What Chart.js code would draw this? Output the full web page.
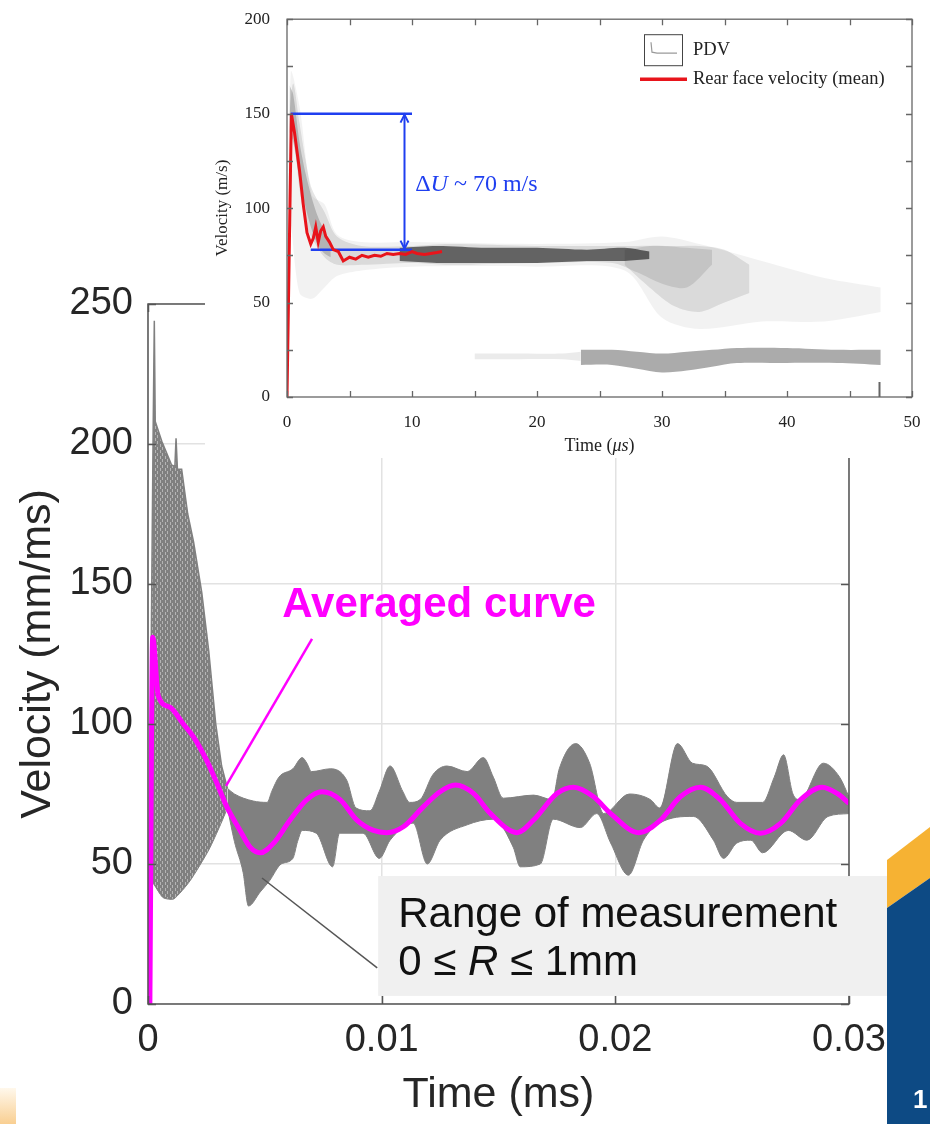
<!DOCTYPE html>
<html>
<head>
<meta charset="utf-8">
<script src="https://cdn.jsdelivr.net/npm/chart.js@4.4.1/dist/chart.umd.min.js"></script>
<style>
  html, body { margin: 0; padding: 0; background: #fff; }
  #page { position: relative; width: 930px; height: 1124px; overflow: hidden; background: #fff; }
  #main { position: absolute; left: 0; top: 0; }
  #insetBox { position: absolute; left: 205px; top: 0; width: 725px; height: 458px; background: #fff; }
  #inset { position: absolute; left: 0; top: 0; }
  .deco { position: absolute; }
  #cornerOrange { left: 887px; top: 820px; width: 43px; height: 100px; background: #f6b233;
    clip-path: polygon(0 40px, 43px 7px, 43px 58px, 0 88px); }
  #cornerBlue { left: 887px; top: 870px; width: 43px; height: 254px; background: #0d4a84;
    clip-path: polygon(0 38px, 43px 8px, 43px 254px, 0 254px); }
  #pageNo { left: 913px; top: 1084px; color: #fff; font: bold 26px "Liberation Sans", Arial, sans-serif; }
  #cornerLeft { left: 0; top: 1088px; width: 16px; height: 36px;
    background: linear-gradient(to bottom, #fff8ec, #f9cf92); }
</style>
</head>
<body>
<div id="page">
  <canvas id="main" width="930" height="1124"></canvas>
  <div id="insetBox"><canvas id="inset" width="725" height="458"></canvas></div>
  <div class="deco" id="cornerOrange"></div>
  <div class="deco" id="cornerBlue"></div>
  <div class="deco" id="pageNo">1</div>
  <div class="deco" id="cornerLeft"></div>
</div>
<script>
// ---------- main plot: rear face velocity, 0 <= R <= 1 mm ----------
const timeTicks = [0, 0.01, 0.02, 0.03];
const velTicks = [0, 50, 100, 150, 200, 250];

// averaged curve
const avgTime = [0.00008, 0.0002, 0.00044, 0.00094, 0.00151, 0.00194, 0.00251, 0.00294, 0.00337,
  0.00394, 0.00437, 0.0048, 0.00537, 0.00608, 0.0068, 0.00744, 0.00822, 0.00894, 0.00965,
  0.01022, 0.01093, 0.01179, 0.0125, 0.01315, 0.01393, 0.01465, 0.0158, 0.0165, 0.0175,
  0.01821, 0.01907, 0.01979, 0.021, 0.02193, 0.02278, 0.02364, 0.0245, 0.02535, 0.02621,
  0.02707, 0.02792, 0.02885, 0.02949, 0.03];
const avgVel = [0, 131, 110, 106, 100, 95.5, 87, 79, 70.5,
  62, 56, 54, 57.4, 65.7, 73, 75.8, 73, 65.7, 62,
  61.2, 63.3, 70.5, 75.8, 78.2, 75.2, 68.1, 61.2, 65.7, 75.2,
  77.4, 74, 68.1, 61.2, 65.7, 74, 77.4, 72.9, 64.5, 61,
  64.5, 72.9, 77.4, 75.2, 71.7];

// envelope of the individual radius curves, start-up part
const earlyTopTime = [0, 0.00022, 0.00027, 0.00031, 0.00059, 0.00101, 0.00115, 0.0012, 0.00126,
  0.00144, 0.0017, 0.00195, 0.0023, 0.0026, 0.0029, 0.00315, 0.0034];
const earlyTopVel = [0, 205, 244, 208, 201, 192.5, 192, 202, 191,
  191, 175, 165, 147, 126, 100, 85, 77];
const earlyLowTime = [0, 0.0001, 0.00064, 0.0011, 0.0018, 0.0026, 0.0031, 0.0034];
const earlyLowVel = [0, 44, 38, 37.5, 44, 55, 64, 70];

// envelope after the first drop
const lateTopTime = [0.0034, 0.0037, 0.0045, 0.0051, 0.0053, 0.0056, 0.0062, 0.0066, 0.0068, 0.007,
  0.0078, 0.0085, 0.0089, 0.0095, 0.0099, 0.01036, 0.0109, 0.0112, 0.01165, 0.0122, 0.0128,
  0.01366, 0.01435, 0.01478, 0.0152, 0.0165, 0.0173, 0.0176, 0.0183, 0.0189, 0.0195, 0.0206,
  0.0215, 0.0219, 0.02266, 0.0233, 0.0239, 0.0248, 0.0252, 0.0263, 0.0268, 0.0272, 0.0276,
  0.0279, 0.0289, 0.0296, 0.03];
const lateTopVel = [77, 75, 72.5, 72, 76, 81, 84, 88, 86, 83,
  84, 80, 70, 69, 76, 85, 76, 72, 73, 82, 85,
  83, 88, 81, 73.5, 74.6, 73, 84, 93, 86, 68, 75,
  73, 70, 93, 86, 85, 74, 72, 72, 81, 89, 75,
  73, 86, 81, 74];
const lateLowTime = [0.0034, 0.0037, 0.00407, 0.0043, 0.0048, 0.0052, 0.0057, 0.0062, 0.0064, 0.0066,
  0.0072, 0.0079, 0.0082, 0.0092, 0.0099, 0.01036, 0.01135, 0.01195, 0.0125, 0.01366, 0.01478,
  0.01563, 0.01593, 0.01679, 0.01734, 0.0185, 0.0192, 0.0198, 0.02056, 0.0212, 0.0219, 0.02334,
  0.0242, 0.02463, 0.0252, 0.0258, 0.0263, 0.0274, 0.0282, 0.0291, 0.03];
const lateLowVel = [70, 58, 47, 35, 40, 44, 50, 52, 58, 62,
  61, 49, 61, 61, 52, 58.5, 64.6, 50, 58.5, 64, 66,
  56, 49, 50, 66, 63, 68, 57.5, 46, 58.5, 64.6, 67,
  58.5, 52, 57.5, 58.5, 54, 62, 58.5, 67, 68];

// ---------- inset: PDV record, 0..50 us ----------
const pdvTimeTicks = [0, 5, 10, 15, 20, 25, 30, 35, 40, 45, 50];
const pdvVelTicks = [0, 25, 50, 75, 100, 125, 150, 175, 200];

const meanTime = [0, 0.35, 0.6, 1.0, 1.3, 1.6, 1.9, 2.1, 2.3, 2.5, 2.7, 2.9, 3.1, 3.4, 3.7, 4.1,
  4.5, 5, 5.5, 6, 6.5, 7, 7.5, 8, 8.5, 9, 9.5, 10, 10.4, 11, 11.5, 12, 12.4];
const meanVel = [0, 150, 140, 120, 102, 87, 81, 84, 90, 82, 88, 90, 85, 82, 78, 77,
  72, 74, 73, 75, 74, 75, 74.5, 76, 75.5, 76, 75.5, 77, 76, 75.5, 76, 76.5, 77];

// spectrogram density, as bands
const cloudTime = [0, 0.3, 1, 2, 3, 4, 6, 10, 20, 27, 30, 33, 38, 43, 47.5];
const cloudHigh = [30, 172, 154, 107, 102, 86, 82, 82, 81, 82, 85, 81, 72, 63, 58];
const cloudLow = [0, 90, 55, 52, 58, 64, 67, 69, 69, 67, 42, 36, 40, 40, 45];
const midTime = [0.2, 0.5, 1, 1.5, 2, 3, 4, 6, 10, 13, 20, 26, 28, 30, 32, 34];
const midHigh = [150, 166, 145, 125, 110, 98, 85, 80, 80, 81, 80, 80, 80, 80, 79, 78];
const midLow = [140, 140, 110, 92, 84, 74, 70, 70, 71, 70, 71, 71, 66, 60, 58, 70];
const streakTime = [0.2, 0.5, 1, 1.5, 2, 2.5, 3, 3.5];
const streakHigh = [165, 160, 135, 118, 105, 95, 88, 82];
const streakLow = [140, 135, 115, 100, 88, 80, 76, 74];
const coreTime = [9, 12, 16, 20, 24, 27, 29];
const coreHigh = [79, 80, 79, 79, 78, 79, 77];
const coreLow = [72, 71, 71, 71, 72, 72, 73];
const patchTime = [27, 29, 31, 33, 35, 37];
const patchHigh = [78, 80, 80, 80, 78, 70];
const patchLow = [70, 58, 48, 45, 50, 55];
const lowFaintTime = [15, 18, 22, 23.5];
const lowFaintHigh = [23, 23, 23, 24];
const lowFaintLow = [20, 20, 20, 19];
const lowTime = [23.5, 26, 28, 30, 32, 34, 36, 40, 44, 47.5];
const lowHigh = [25, 25, 24, 23, 24, 25, 26, 26, 25, 25];
const lowLow = [17, 17, 15, 13, 14, 16, 18, 18, 18, 17];
const tailTime = [47.4, 47.4];
const tailVel = [0, 8];

// jump marked on the record
const deltaTop = 150, deltaBase = 78;
const deltaTopSpan = [0.3, 10];
const deltaBaseSpan = [1.9, 10];
const deltaArrowT = 9.4;

const pts = (xs, ys) => xs.map((v, i) => ({ x: v, y: ys[i] }));

Chart.defaults.animation = false;
Chart.defaults.elements.point.radius = 0;
Chart.defaults.elements.point.hoverRadius = 0;
Chart.defaults.plugins.legend.display = false;
Chart.defaults.plugins.tooltip.enabled = false;

const SANS = '"Liberation Sans", Arial, sans-serif';
const SERIF = '"Liberation Serif", "Times New Roman", serif';

// frame around the plot area with inward ticks on all four sides
const frameTicks = {
  id: 'frameTicks',
  afterDatasetsDraw(chart, args, o) {
    const { ctx, chartArea: a, scales } = chart;
    ctx.save();
    ctx.strokeStyle = o.color;
    ctx.lineWidth = o.width;
    ctx.beginPath();
    scales.x.ticks.forEach(t => {
      const p = Math.round(scales.x.getPixelForValue(t.value)) + 0.5;
      ctx.moveTo(p, a.bottom); ctx.lineTo(p, a.bottom - o.len);
      ctx.moveTo(p, a.top); ctx.lineTo(p, a.top + o.len);
    });
    scales.y.ticks.forEach(t => {
      const p = Math.round(scales.y.getPixelForValue(t.value)) + 0.5;
      ctx.moveTo(a.left, p); ctx.lineTo(a.left + o.len, p);
      ctx.moveTo(a.right, p); ctx.lineTo(a.right - o.len, p);
    });
    ctx.stroke();
    ctx.strokeRect(a.left, a.top, a.right - a.left, a.bottom - a.top);
    ctx.restore();
  }
};

// mixed upright / italic text run
function drawRuns(ctx, runs, x, y, size, family, align) {
  let w = 0;
  runs.forEach(r => { ctx.font = (r[1] ? 'italic ' : '') + size + 'px ' + family; w += ctx.measureText(r[0]).width; });
  let cx = align === 'center' ? x - w / 2 : x;
  ctx.textAlign = 'left';
  runs.forEach(r => {
    ctx.font = (r[1] ? 'italic ' : '') + size + 'px ' + family;
    ctx.fillText(r[0], cx, y);
    cx += ctx.measureText(r[0]).width;
  });
}

// callouts on the main plot
const mainNotes = {
  id: 'mainNotes',
  afterDatasetsDraw(chart) {
    const { ctx, scales: { x, y } } = chart;
    const P = (t, v) => [x.getPixelForValue(t), y.getPixelForValue(v)];
    ctx.save();
    // pointer to the averaged curve
    let a = P(0.00702, 130.4), b = P(0.00334, 77.9);
    ctx.strokeStyle = '#ff00ff'; ctx.lineWidth = 2.5;
    ctx.beginPath(); ctx.moveTo(a[0], a[1]); ctx.lineTo(b[0], b[1]); ctx.stroke();
    let c = P(0.01246, 142.5);
    ctx.fillStyle = '#ff00ff';
    ctx.font = 'bold 42px ' + SANS;
    ctx.textAlign = 'center'; ctx.textBaseline = 'middle';
    ctx.fillText('Averaged curve', c[0], c[1]);
    // pointer to the bundle
    a = P(0.00488, 45); b = P(0.00981, 12.9);
    ctx.strokeStyle = '#555'; ctx.lineWidth = 1.5;
    ctx.beginPath(); ctx.moveTo(a[0], a[1]); ctx.lineTo(b[0], b[1]); ctx.stroke();
    // measurement range box
    const tl = P(0.00985, 45.7), br = P(0.03165, 2.9);
    ctx.fillStyle = '#f0f0f0';
    ctx.fillRect(tl[0], tl[1], br[0] - tl[0], br[1] - tl[1]);
    ctx.fillStyle = '#111';
    const l1 = P(0.01071, 31.8), l2 = P(0.01071, 14.6);
    drawRuns(ctx, [['Range of measurement', false]], l1[0], l1[1], 42, SANS, 'left');
    drawRuns(ctx, [['0 \u2264 ', false], ['R', true], [' \u2264 1mm', false]], l2[0], l2[1], 42, SANS, 'left');
    ctx.restore();
  }
};

// striped fill for the start-up part of the bundle
const mainCanvas = document.getElementById('main');
const stripeTile = document.createElement('canvas');
stripeTile.width = 5; stripeTile.height = 6;
(() => {
  const g = stripeTile.getContext('2d');
  g.fillStyle = '#808080'; g.fillRect(0, 0, 5, 6);
  g.fillStyle = 'rgba(255,255,255,0.42)';
  g.fillRect(0, 0, 1, 3); g.fillRect(2, 3, 1, 3);
})();
const stripes = mainCanvas.getContext('2d').createPattern(stripeTile, 'repeat');

const GRAY = '#808080';
new Chart(mainCanvas, {
  type: 'line',
  data: {
    datasets: [
      { data: pts(avgTime, avgVel), borderColor: '#ff00ff', borderWidth: 5, cubicInterpolationMode: 'monotone', order: 0 },
      { data: pts(earlyLowTime, earlyLowVel), borderColor: GRAY, borderWidth: 1, tension: 0.2, order: 5 },
      { data: pts(earlyTopTime, earlyTopVel), borderColor: GRAY, borderWidth: 1.5, tension: 0, fill: '-1', backgroundColor: stripes, order: 5 },
      { data: pts(lateLowTime, lateLowVel), borderColor: GRAY, borderWidth: 1, cubicInterpolationMode: 'monotone', order: 4 },
      { data: pts(lateTopTime, lateTopVel), borderColor: GRAY, borderWidth: 1, cubicInterpolationMode: 'monotone', fill: '-1', backgroundColor: GRAY, order: 4 }
    ]
  },
  options: {
    responsive: false,
    devicePixelRatio: 1,
    layout: { padding: { left: 0, top: 304, right: 81, bottom: 0 } },
    scales: {
      x: {
        type: 'linear', min: 0, max: 0.03,
        afterFit: s => { s.height = 120; },
        afterBuildTicks: s => { s.ticks = timeTicks.map(v => ({ value: v })); },
        grid: { color: '#e2e2e2', lineWidth: 1.5, drawTicks: false },
        border: { display: false },
        ticks: { padding: 14, color: '#262626', maxRotation: 0, autoSkip: false,
          font: { family: SANS, size: 38 }, callback: v => String(+v.toFixed(2)) },
        title: { display: true, text: 'Time (ms)', color: '#262626',
          font: { family: SANS, size: 43, lineHeight: 1.2 }, padding: { top: 0, bottom: 3 } }
      },
      y: {
        min: 0, max: 250,
        afterFit: s => { s.width = 148; },
        afterBuildTicks: s => { s.ticks = velTicks.map(v => ({ value: v })); },
        grid: { color: '#e2e2e2', lineWidth: 1.5, drawTicks: false },
        border: { display: false },
        ticks: { padding: 15, color: '#262626', font: { family: SANS, size: 38 } },
        title: { display: true, text: 'Velocity (mm/ms)', color: '#262626',
          font: { family: SANS, size: 43, lineHeight: 1.2 }, padding: { top: 12, bottom: 0 } }
      }
    },
    plugins: { frameTicks: { color: '#555', width: 1.5, len: 8 } }
  },
  plugins: [frameTicks, mainNotes]
});

// ---------- inset ----------
const insetNotes = {
  id: 'insetNotes',
  afterDatasetsDraw(chart) {
    const { ctx, chartArea: a, scales: { x, y } } = chart;
    ctx.save();
    // arrowheads on the jump marker
    const ax = x.getPixelForValue(deltaArrowT);
    const ay1 = y.getPixelForValue(deltaTop), ay2 = y.getPixelForValue(deltaBase);
    ctx.strokeStyle = '#1f3ff0'; ctx.lineWidth = 2;
    ctx.beginPath();
    ctx.moveTo(ax - 4, ay1 + 9); ctx.lineTo(ax, ay1 + 1); ctx.lineTo(ax + 4, ay1 + 9);
    ctx.moveTo(ax - 4, ay2 - 9); ctx.lineTo(ax, ay2 - 1); ctx.lineTo(ax + 4, ay2 - 9);
    ctx.stroke();
    ctx.fillStyle = '#1f3ff0';
    ctx.textBaseline = 'middle';
    drawRuns(ctx, [['\u0394', false], ['U', true], [' ~ 70 m/s', false]],
      x.getPixelForValue(10.25), y.getPixelForValue(112.5), 24, SERIF, 'left');
    // x axis title
    ctx.fillStyle = '#222';
    drawRuns(ctx, [['Time (', false], ['\u03bcs', true], [')', false]],
      (a.left + a.right) / 2, a.bottom + 49, 18, SERIF, 'center');
    // legend
    const lx = a.right - 268, ly = a.top + 15;
    ctx.strokeStyle = '#444'; ctx.lineWidth = 1;
    ctx.strokeRect(lx + 0.5, ly + 0.5, 38, 31);
    ctx.strokeStyle = '#9a9a9a'; ctx.lineWidth = 1.2;
    ctx.beginPath();
    ctx.moveTo(lx + 7, ly + 8); ctx.lineTo(lx + 8, ly + 18); ctx.lineTo(lx + 13, ly + 19); ctx.lineTo(lx + 33, ly + 19);
    ctx.stroke();
    ctx.strokeStyle = '#e8141b'; ctx.lineWidth = 3.5;
    ctx.beginPath(); ctx.moveTo(lx - 4, ly + 45); ctx.lineTo(lx + 43, ly + 45); ctx.stroke();
    ctx.fillStyle = '#222';
    ctx.font = '18.5px ' + SERIF; ctx.textAlign = 'left';
    ctx.fillText('PDV', lx + 49, ly + 16);
    ctx.fillText('Rear face velocity (mean)', lx + 49, ly + 45);
    ctx.restore();
  }
};

const band = (xs, lo, hi, color, order) => [
  { data: pts(xs, lo), borderWidth: 0, borderColor: 'rgba(0,0,0,0)', tension: 0.3, order },
  { data: pts(xs, hi), borderWidth: 0, borderColor: 'rgba(0,0,0,0)', tension: 0.3, fill: '-1', backgroundColor: color, order }
];

const BLUE = '#1f3ff0';
new Chart(document.getElementById('inset'), {
  type: 'line',
  data: {
    datasets: [
      { data: pts(meanTime, meanVel), borderColor: '#e8141b', borderWidth: 3, order: 0 },
      { data: pts(deltaTopSpan, [deltaTop, deltaTop]), borderColor: BLUE, borderWidth: 2.5, order: 1 },
      { data: pts(deltaBaseSpan, [deltaBase, deltaBase]), borderColor: BLUE, borderWidth: 2.5, order: 1 },
      { data: pts([deltaArrowT, deltaArrowT], [deltaTop, deltaBase]), borderColor: BLUE, borderWidth: 2, order: 1 },
      { data: pts(tailTime, tailVel), borderColor: 'rgba(0,0,0,0.6)', borderWidth: 2, order: 2 },
      ...band(cloudTime, cloudLow, cloudHigh, 'rgba(0,0,0,0.05)', 9),
      ...band(patchTime, patchLow, patchHigh, 'rgba(0,0,0,0.1)', 8),
      ...band(midTime, midLow, midHigh, 'rgba(0,0,0,0.1)', 7),
      ...band(streakTime, streakLow, streakHigh, 'rgba(0,0,0,0.18)', 6),
      ...band(coreTime, coreLow, coreHigh, 'rgba(0,0,0,0.55)', 6),
      ...band(lowFaintTime, lowFaintLow, lowFaintHigh, 'rgba(0,0,0,0.08)', 6),
      ...band(lowTime, lowLow, lowHigh, 'rgba(0,0,0,0.33)', 6)
    ]
  },
  options: {
    responsive: false,
    devicePixelRatio: 1,
    layout: { padding: { left: 0, top: 12, right: 18, bottom: 0 } },
    scales: {
      x: {
        type: 'linear', min: 0, max: 50,
        afterFit: s => { s.height = 61; },
        afterBuildTicks: s => { s.ticks = pdvTimeTicks.map(v => ({ value: v })); },
        grid: { display: false },
        border: { display: false },
        ticks: { padding: 7, color: '#222', maxRotation: 0, autoSkip: false,
          font: { family: SERIF, size: 17 }, callback: v => (v % 10 === 0 ? String(v) : '') }
      },
      y: {
        min: 0, max: 200,
        afterFit: s => { s.width = 82; },
        afterBuildTicks: s => { s.ticks = pdvVelTicks.map(v => ({ value: v })); },
        grid: { display: false },
        border: { display: false },
        ticks: { padding: 9, color: '#222', autoSkip: false,
          font: { family: SERIF, size: 17 }, callback: v => (v % 50 === 0 ? String(v) : '') },
        title: { display: true, text: 'Velocity (m/s)', color: '#222',
          font: { family: SERIF, size: 17, lineHeight: 1.2 }, padding: { top: 7, bottom: 0 } }
      }
    },
    plugins: { frameTicks: { color: '#666', width: 1.3, len: 6 } }
  },
  plugins: [frameTicks, insetNotes]
});
</script>
</body>
</html>
